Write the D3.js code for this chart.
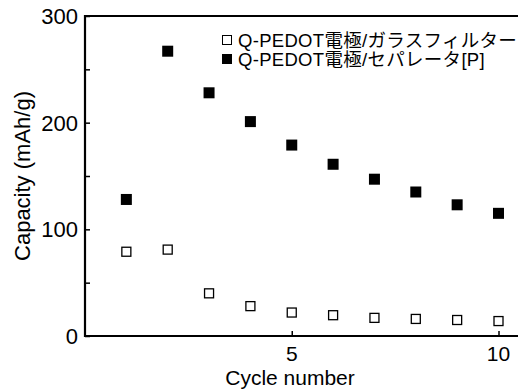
<!DOCTYPE html>
<html>
<head>
<meta charset="utf-8">
<script src="https://cdn.jsdelivr.net/npm/d3@7"></script>
<style>
  body { margin: 0; background: #fff; }
  text { font-family: "Liberation Sans", Arial, "Noto Sans CJK JP", sans-serif; fill: #000; }
</style>
</head>
<body>
<div id="chart"></div>
<script>
// data
var cycles = [1, 2, 3, 4, 5, 6, 7, 8, 9, 10];
var glassFilter = [79, 81, 40, 28, 22, 19.5, 17, 16, 15, 14];
var separatorP = [128, 267, 228, 201, 179, 161, 147, 135, 123, 115];
var seriesNames = ["Q-PEDOT電極/ガラスフィルター", "Q-PEDOT電極/セパレータ[P]"];
var yTicks = [0, 100, 200, 300];
var yMinor = [50, 150, 250];
var xTicks = [5, 10];

var width = 518, height = 389;
var margin = {left: 85, top: 16, bottom: 53};

var svg = d3.select("#chart").append("svg")
  .attr("width", width).attr("height", height);

var x = d3.scaleLinear().domain([0, 10.5]).range([margin.left, margin.left + 10.5 * 41.35]);
var y = d3.scaleLinear().domain([0, 300]).range([height - margin.bottom, margin.top]);

// axes (ticks point inward)
var yAxis = svg.append("g").attr("transform", "translate(" + margin.left + ",0)")
  .call(d3.axisRight(y).tickValues(yTicks.concat(yMinor)).tickSize(5).tickFormat(""));
yAxis.select(".domain").remove();
yAxis.selectAll("line").attr("stroke-width", 1.5);

var xAxis = svg.append("g").attr("transform", "translate(0," + y(0) + ")")
  .call(d3.axisTop(x).tickValues(xTicks).tickSize(5).tickFormat(""));
xAxis.select(".domain").remove();
xAxis.selectAll("line").attr("stroke-width", 1.5);

// frame lines: left, bottom, top
svg.append("path")
  .attr("d", "M" + width + "," + y(300) + "H" + margin.left + "V" + y(0) + "H" + width)
  .attr("fill", "none").attr("stroke", "#000").attr("stroke-width", 2.2);

// tick labels
svg.selectAll(".ylab").data(yTicks).enter().append("text")
  .attr("x", 78).attr("y", function(d) { return y(d); })
  .attr("dy", "0.36em").attr("text-anchor", "end")
  .style("font-size", "22px").text(function(d) { return d; });

svg.selectAll(".xlab").data(xTicks).enter().append("text")
  .attr("x", function(d) { return x(d); }).attr("y", y(0) + 25)
  .attr("text-anchor", "middle")
  .style("font-size", "21px").text(function(d) { return d; });

// axis titles
svg.append("text")
  .attr("x", 290).attr("y", 385)
  .attr("text-anchor", "middle").style("font-size", "21px")
  .text("Cycle number");

svg.append("text")
  .attr("transform", "translate(30," + ((y(0) + y(300)) / 2) + ") rotate(-90)")
  .attr("text-anchor", "middle").style("font-size", "22px")
  .text("Capacity (mAh/g)");

// markers
var s1 = 10, s2 = 11;
svg.selectAll(".open").data(cycles).enter().append("rect")
  .attr("x", function(d) { return x(d) - s1 / 2 + 0.5; })
  .attr("y", function(d, i) { return y(glassFilter[i]) - s1 / 2 + 0.5; })
  .attr("width", s1 - 1).attr("height", s1 - 1)
  .attr("fill", "#fff").attr("stroke", "#000").attr("stroke-width", 1.3);

svg.selectAll(".filled").data(cycles).enter().append("rect")
  .attr("x", function(d) { return x(d) - s2 / 2; })
  .attr("y", function(d, i) { return y(separatorP[i]) - s2 / 2; })
  .attr("width", s2).attr("height", s2)
  .attr("fill", "#000");

// legend
var legend = svg.append("g");
var ly = [40, 59];
legend.append("rect").attr("x", 222.5).attr("y", ly[0] - 4.5).attr("width", 9).attr("height", 9)
  .attr("fill", "#fff").attr("stroke", "#000").attr("stroke-width", 1);
legend.append("rect").attr("x", 222).attr("y", ly[1] - 5).attr("width", 10).attr("height", 10)
  .attr("fill", "#000");
legend.selectAll(".lt").data(seriesNames).enter().append("text")
  .attr("x", 238).attr("y", function(d, i) { return ly[i]; })
  .attr("dy", "0.36em").style("font-size", "18.5px")
  .style("letter-spacing", "0.3px")
  .text(function(d) { return d; });
</script>
</body>
</html>
